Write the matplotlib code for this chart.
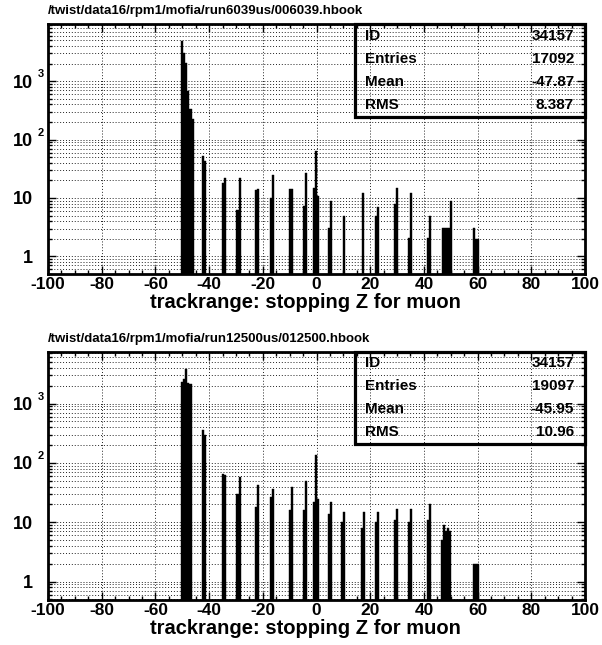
import numpy as np
import matplotlib
matplotlib.use("Agg")
import matplotlib.pyplot as plt
from matplotlib.ticker import FixedLocator, MultipleLocator, LogLocator, NullFormatter
from matplotlib.patches import Rectangle

plt.rcParams['font.family'] = ['Liberation Sans', 'DejaVu Sans']
plt.rcParams['font.weight'] = 'bold'

# ---------------- data ----------------
BIN_W = 0.75

titles = ["/twist/data16/rpm1/mofia/run6039us/006039.hbook",
          "/twist/data16/rpm1/mofia/run12500us/012500.hbook"]
x_label = "trackrange: stopping Z for muon"
stat_names = ["ID", "Entries", "Mean", "RMS"]
top_stats = ["34157", "17092", "-47.87", "8.387"]
bot_stats = ["34157", "19097", "-45.95", "10.96"]

x_ticks = [-100, -80, -60, -40, -20, 0, 20, 40, 60, 80, 100]
y_ticks = [1, 10, 100, 1000]
y_tick_base = ["1", "10", "10", "10"]
y_tick_exp = ["", "", "2", "3"]

top_group_starts = [-50.3, -42.6, -35.1, -29.8, -23.0, -17.4, -10.3, -5.2, -1.15,
                    4.4, 9.7, 16.8, 21.7, 28.9, 34.1, 41.3, 46.75, 58.3]
top_group_counts = [[4870, 3080, 2080, 676, 328, 227], [52, 43], [18, 22], [6.3, 22],
                    [13.5, 14.5], [10, 25], [14.3, 14.3], [7.2, 27], [15, 63, 11],
                    [3.1, 9], [5.0], [12.3], [5, 7], [8, 15], [2.1, 12.3], [2.1, 5],
                    [3.1, 3.1, 3.1, 3.1, 9], [3.1, 2, 2]]

bot_group_starts = [-50.3, -42.6, -35.1, -29.8, -23.0, -17.4, -10.3, -5.2, -1.15,
                    4.4, 9.3, 16.5, 21.7, 28.9, 34.1, 41.3, 46.5, 58.3]
bot_group_counts = [[2300, 2630, 3760, 2250, 2150], [365, 300], [64, 62], [30, 58],
                    [18, 42], [27, 37], [16, 40], [16, 50], [22, 135, 25],
                    [14, 22], [10, 14.7], [8, 14.7], [10, 14.7], [11, 17], [10, 17],
                    [11, 20], [5, 9, 7.2, 8, 7], [2, 2, 2]]

top_ylim = (0.5, 9500)
bot_ylim = (0.49, 7400)


def expand(starts, counts):
    xs, hs = [], []
    for s, cs in zip(starts, counts):
        for i, c in enumerate(cs):
            xs.append(s + (i + 0.5) * BIN_W)
            hs.append(c)
    return np.array(xs), np.array(hs)


W, H = 602, 645
fig = plt.figure(figsize=(W / 100, H / 100), dpi=100)

panels = [
    dict(rect=(48, 24, 585, 274), title=titles[0], stats=top_stats, ylim=top_ylim,
         starts=top_group_starts, counts=top_group_counts, box_bottom=117),
    dict(rect=(48, 352, 585, 600), title=titles[1], stats=bot_stats, ylim=bot_ylim,
         starts=bot_group_starts, counts=bot_group_counts, box_bottom=443.5),
]

for p in panels:
    l, t, r, b = p['rect']
    ax = fig.add_axes([l / W, 1 - b / H, (r - l) / W, (b - t) / H])
    ax.set_yscale('log')
    ax.set_xlim(-100, 100)
    ax.set_ylim(*p['ylim'])

    xs, hs = expand(p['starts'], p['counts'])
    ax.bar(xs, hs, width=BIN_W, bottom=1e-3, color='black', linewidth=0.3,
           edgecolor='black', zorder=3)

    # ticks
    ax.xaxis.set_major_locator(FixedLocator(x_ticks))
    ax.xaxis.set_minor_locator(MultipleLocator(5))
    ax.set_xticklabels([str(v) for v in x_ticks], fontsize=12.5, fontweight='bold')
    ax.yaxis.set_major_locator(FixedLocator(y_ticks))
    ax.yaxis.set_minor_locator(LogLocator(base=10, subs=np.arange(2, 10), numticks=20))
    ax.yaxis.set_minor_formatter(NullFormatter())
    ax.set_yticklabels(y_tick_base, fontsize=13, fontweight='bold')
    ax.tick_params(which='both', direction='in', top=True, right=True, width=1.0)
    ax.tick_params(which='major', length=6)
    ax.tick_params(which='minor', length=3)
    ax.tick_params(axis='x', which='major', pad=2)
    ax.tick_params(axis='y', which='major', pad=11)

    for v, e in zip(y_ticks, y_tick_exp):
        if e:
            ax.annotate(e, xy=(0, v), xycoords=('axes fraction', 'data'),
                        xytext=(-5, 5), textcoords='offset points',
                        ha='center', va='center', fontsize=8, fontweight='bold')

    # grid
    ax.grid(True, which='major', axis='x', color='#222222', linewidth=0.7,
            linestyle=(0, (1, 2)), zorder=1)
    ax.grid(True, which='both', axis='y', color='#222222', linewidth=0.7,
            linestyle=(0, (1, 2)), zorder=1)

    for sp in ax.spines.values():
        sp.set_linewidth(2.0)
        sp.set_zorder(5)

    ax.set_xlabel(x_label, fontsize=14.5, fontweight='bold', labelpad=0)
    ax.xaxis.set_label_coords(0.479, -19.5 / (b - t), transform=ax.transAxes)
    ax.xaxis.label.set_va('top')

    # title
    fig.text(l / W, 1 - (t - 13) / H, p['title'], fontsize=9.5, fontweight='bold',
             ha='left', va='center')

    # stats box
    bx0 = (355 - l) / (r - l)
    by0 = 1 - (p['box_bottom'] - t) / (b - t)
    ax.add_patch(Rectangle((bx0, by0), 1 - bx0, 1 - by0, transform=ax.transAxes,
                           fill=False, linewidth=2.3, edgecolor='black', zorder=6,
                           clip_on=False))
    rowh = (1 - by0) / 4
    for i, (n, v) in enumerate(zip(stat_names, p['stats'])):
        yy = 1 - (i + 0.5) * rowh
        ax.text((365 - l) / (r - l), yy, n, transform=ax.transAxes, fontsize=11,
                fontweight='bold', ha='left', va='center', zorder=7)
        ax.text((574 - l) / (r - l), yy, v, transform=ax.transAxes, fontsize=11,
                fontweight='bold', ha='right', va='center', zorder=7)

fig.savefig("out.png", dpi=100)
